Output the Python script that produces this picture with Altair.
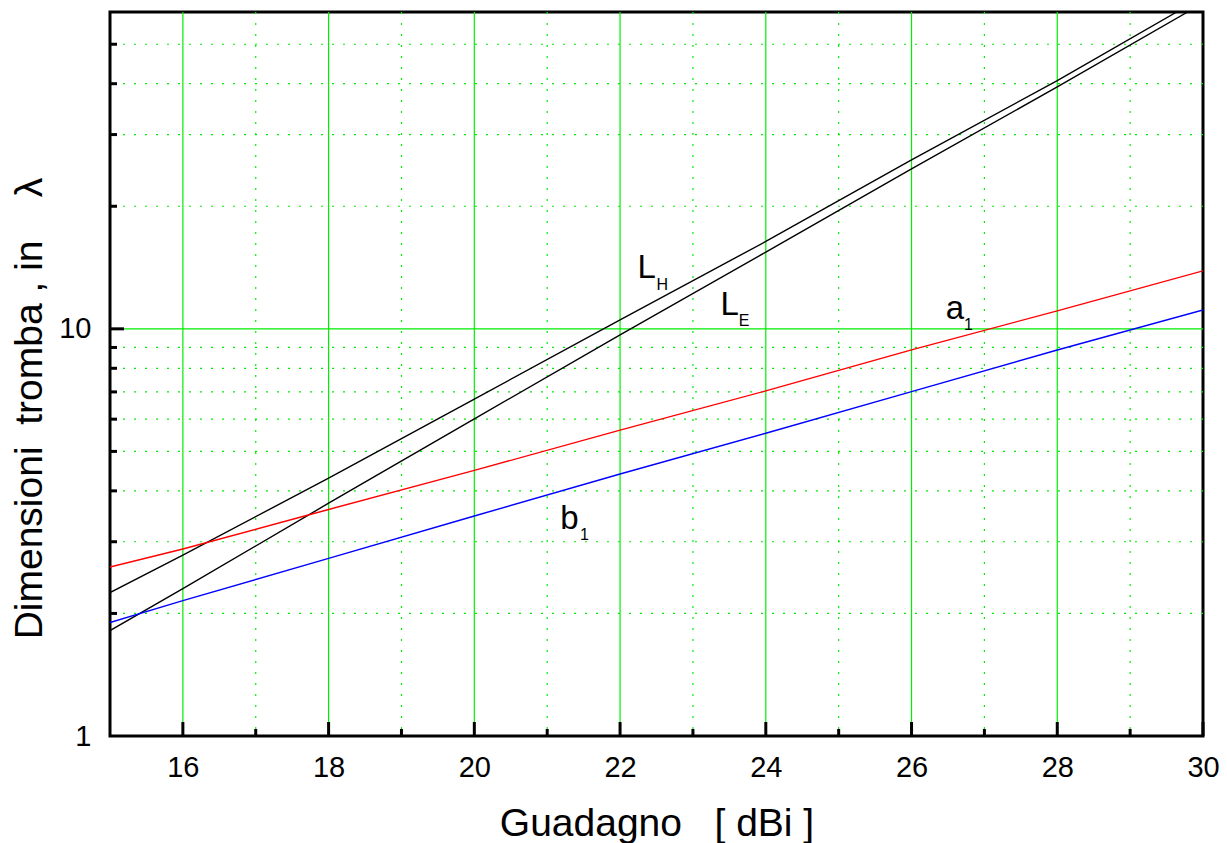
import altair as alt
import pandas as pd

# ---------------- data ----------------
gain_ab = [15, 16, 18, 20, 22, 24, 26, 28, 30]
a1 = [2.60, 2.88, 3.60, 4.49, 5.64, 7.04, 8.88, 11.07, 13.88]
b1 = [1.90, 2.15, 2.73, 3.47, 4.40, 5.54, 7.01, 8.87, 11.13]

gain_LH = [15, 16, 18, 20, 22, 24, 26, 28, 29.64]
LH = [2.25, 2.78, 4.30, 6.72, 10.52, 16.39, 26.0, 40.7, 60.0]

gain_LE = [15, 16, 18, 20, 22, 24, 26, 28, 29.79]
LE = [1.815, 2.30, 3.73, 6.01, 9.67, 15.43, 24.7, 39.3, 60.0]

series_names = ["L_H", "L_E", "a1", "b1"]
series_colors = ["#000000", "#000000", "#ff0000", "#0000ff"]

x_major_grid = [16, 18, 20, 22, 24, 26, 28]
x_minor_grid = [17, 19, 21, 23, 25, 27, 29]
y_major_grid = [10]
y_minor_grid = [2, 3, 4, 5, 6, 7, 8, 9, 20, 30, 40, 50]

x_tick_labels = [16, 18, 20, 22, 24, 26, 28, 30]
y_tick_labels = [1, 10]

label_main_text = ["L", "L", "a", "b"]
label_main_x = [22.24, 23.38, 26.47, 21.18]
label_main_y = [13.35, 10.82, 10.56, 3.23]
label_sub_text = ["H", "E", "1", "1"]
label_sub_x = [22.50, 23.63, 26.72, 21.45]
label_sub_y = [12.43, 10.17, 9.94, 3.03]

NB = "\u00a0"
x_title = "Guadagno" + NB * 3 + "[" + NB + "dBi" + NB + "]"
y_title = "Dimensioni" + NB * 2 + "tromba" + NB + "," + NB + "in" + NB * 4 + "λ"

# ---------------- styling ----------------
FONT = "Liberation Sans"
GREEN = "#00ee00"
PW, PH = 1093, 724

xscale = alt.Scale(domain=[15, 30], nice=False, zero=False)
yscale = alt.Scale(type="log", domain=[1, 60], nice=False)

rows = []
for name, xs, ys in [("L_H", gain_LH, LH), ("L_E", gain_LE, LE),
                     ("a1", gain_ab, a1), ("b1", gain_ab, b1)]:
    for xv, yv in zip(xs, ys):
        rows.append({"gain": xv, "value": yv, "series": name})
df = pd.DataFrame(rows)

xaxis = alt.Axis(
    values=x_tick_labels, title=x_title, labelFontSize=29,
    labelFont=FONT, labelColor="black", labelPadding=40, labelBaseline="alphabetic",
    labelFlush=False, labelOverlap=False, ticks=False, tickSize=0, domain=False, grid=False,
    titleFont=FONT, titleFontSize=39, titleFontWeight="normal", titleColor="black",
    titleY=99, titleBaseline="alphabetic",
)
yaxis = alt.Axis(
    values=y_tick_labels, title=y_title, labelFontSize=29,
    labelFont=FONT, labelColor="black", labelPadding=19, labelBaseline="middle",
    labelOverlap=False, ticks=False, tickSize=0, domain=False, grid=False, format="~g",
    titleFont=FONT, titleFontSize=39, titleFontWeight="normal", titleColor="black",
    titleAngle=270, titleX=-69, titleY=396, titleBaseline="alphabetic", titleAlign="center",
)


def X(field):
    return alt.X(field, scale=xscale, axis=xaxis)


def Y(field):
    return alt.Y(field, scale=yscale, axis=yaxis)


minor_x = alt.Chart(pd.DataFrame({"g": x_minor_grid})).mark_rule(
    color=GREEN, strokeWidth=1.2, strokeDash=[2, 9]
).encode(x=X("g:Q"))
minor_y = alt.Chart(pd.DataFrame({"g": y_minor_grid})).mark_rule(
    color=GREEN, strokeWidth=1.2, strokeDash=[2, 9]
).encode(y=Y("g:Q"))
major_x = alt.Chart(pd.DataFrame({"g": x_major_grid})).mark_rule(
    color=GREEN, strokeWidth=1.2
).encode(x=X("g:Q"))
major_y = alt.Chart(pd.DataFrame({"g": y_major_grid})).mark_rule(
    color=GREEN, strokeWidth=1.2
).encode(y=Y("g:Q"))

lines = alt.Chart(df).mark_line(clip=True, strokeWidth=1.4).encode(
    x=X("gain:Q"),
    y=Y("value:Q"),
    color=alt.Color("series:N", scale=alt.Scale(domain=series_names, range=series_colors), legend=None),
    order=alt.Order("gain:Q"),
)

main_labels = alt.Chart(pd.DataFrame({"t": label_main_text, "x": label_main_x, "y": label_main_y})).mark_text(
    font=FONT, fontSize=33, align="left", baseline="alphabetic", color="black"
).encode(x=X("x:Q"), y=Y("y:Q"), text="t:N")
sub_labels = alt.Chart(pd.DataFrame({"t": label_sub_text, "x": label_sub_x, "y": label_sub_y})).mark_text(
    font=FONT, fontSize=16, align="left", baseline="alphabetic", color="black"
).encode(x=X("x:Q"), y=Y("y:Q"), text="t:N")

x_major_ticks = alt.Chart(pd.DataFrame({"t": x_major_grid + [30]})).mark_rule(
    color="black", strokeWidth=3
).encode(x=X("t:Q"), y=alt.value(PH), y2=alt.value(PH - 14))
x_minor_ticks = alt.Chart(pd.DataFrame({"t": x_minor_grid})).mark_rule(
    color="black", strokeWidth=3
).encode(x=X("t:Q"), y=alt.value(PH), y2=alt.value(PH - 7))
y_major_ticks = alt.Chart(pd.DataFrame({"t": y_major_grid})).mark_rule(
    color="black", strokeWidth=3
).encode(y=Y("t:Q"), x=alt.value(0), x2=alt.value(14))
y_minor_ticks = alt.Chart(pd.DataFrame({"t": y_minor_grid})).mark_rule(
    color="black", strokeWidth=3
).encode(y=Y("t:Q"), x=alt.value(0), x2=alt.value(7))

chart = alt.layer(
    minor_x, minor_y, major_x, major_y, lines, main_labels, sub_labels,
    x_major_ticks, x_minor_ticks, y_major_ticks, y_minor_ticks,
).properties(
    width=PW, height=PH,
    padding={"left": 110, "top": 12, "right": 24, "bottom": 107},
    autosize=alt.AutoSizeParams(type="none"),
    background="white",
).configure_view(stroke="black", strokeWidth=3)

chart.save("out.html", embed_options={"renderer": "svg", "actions": False})
